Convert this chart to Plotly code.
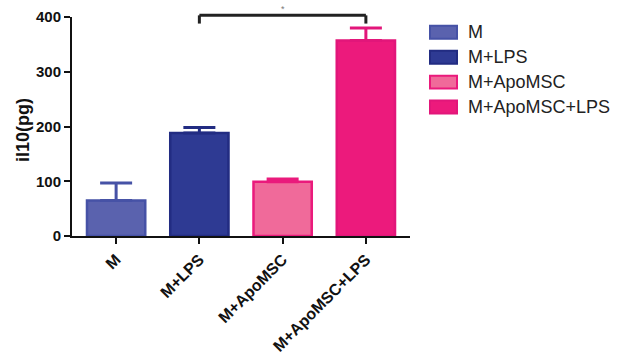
import plotly.graph_objects as go

categories = ["M", "M+LPS", "M+ApoMSC", "M+ApoMSC+LPS"]
means = [65, 188, 99, 357]
errors = [32, 10, 5, 23]
fill_colors = ["#5a62ae", "#2e3a93", "#f06a9a", "#ec1a7c"]
edge_colors = ["#4652a6", "#222c82", "#ea1a7c", "#e2167a"]
bracket_pair = [1, 3]
bracket_level = 403
bracket_drop = 388
y_ticks = [0, 100, 200, 300, 400]
y_title = "il10(pg)"

FONT = "Arial, Liberation Sans, sans-serif"
fig = go.Figure()
for i, c in enumerate(categories):
    fig.add_trace(go.Bar(
        x=[c], y=[means[i]], width=0.7,
        marker=dict(color=fill_colors[i], line=dict(color=edge_colors[i], width=2.5)),
        error_y=dict(type="data", symmetric=False, array=[errors[i]], arrayminus=[0],
                     color=edge_colors[i], thickness=3, width=16),
        showlegend=False, name=c,
    ))

ymax = 400
# significance bracket (paper y computed from data values)
x1, x2 = categories[bracket_pair[0]], categories[bracket_pair[1]]
yb = bracket_level / ymax
yd = bracket_drop / ymax
for xs in [x1, x2]:
    fig.add_shape(type="line", xref="x", yref="paper", x0=xs, x1=xs, y0=yd, y1=yb,
                  line=dict(color="#222", width=3))
fig.add_shape(type="line", xref="x", yref="paper", x0=x1, x1=x2, y0=yb, y1=yb,
              line=dict(color="#222", width=3))
fig.add_annotation(x=2, y=yb, xref="x", yref="paper", text="*", showarrow=False,
                   yanchor="bottom", yshift=-1, font=dict(family=FONT, size=9, color="#777"))

# manual legend
pw = 410 - 72
ph = 236.3 - 16.7
for i, c in enumerate(categories):
    ytop = 1 - (32 - 16.7 + 25 * i) / ph
    h = 13 / ph
    fig.add_shape(type="rect", xref="paper", yref="paper",
                  x0=(430 - 72) / pw, x1=(457 - 72) / pw, y0=ytop - h / 2, y1=ytop + h / 2,
                  fillcolor=fill_colors[i], line=dict(color=edge_colors[i], width=2))
    fig.add_annotation(x=(466 - 72) / pw, y=ytop, xref="paper", yref="paper", text=c,
                       showarrow=False, xanchor="left", yanchor="middle",
                       font=dict(family=FONT, size=18, color="#222"))

# y-axis title
fig.add_annotation(x=(23 - 72) / pw, y=1 - (130 - 16.7) / ph, xref="paper", yref="paper",
                   text=y_title, textangle=-90, showarrow=False, xanchor="center", yanchor="middle",
                   font=dict(family=FONT, size=18, color="#111", weight="bold"))

fig.update_layout(
    width=617, height=361, margin=dict(l=72, r=207, t=17, b=125),
    plot_bgcolor="white", paper_bgcolor="white", barmode="overlay",
    font=dict(family=FONT, color="#111"),
)
fig.update_xaxes(range=[-0.53, 3.53], showline=True, linecolor="#111", linewidth=2,
                 ticks="outside", ticklen=6, tickwidth=2, tickcolor="#111",
                 tickangle=-45, tickfont=dict(size=16, family=FONT, weight="bold"),
                 showgrid=False, automargin=False)
fig.update_yaxes(range=[0, ymax], tickvals=y_ticks, showline=True, linecolor="#111", linewidth=2,
                 ticks="outside", ticklen=6, tickwidth=2, tickcolor="#111",
                 tickfont=dict(size=15, family=FONT, weight="bold"), showgrid=False, zeroline=False,
                 automargin=False)
fig.write_html("out.html")
